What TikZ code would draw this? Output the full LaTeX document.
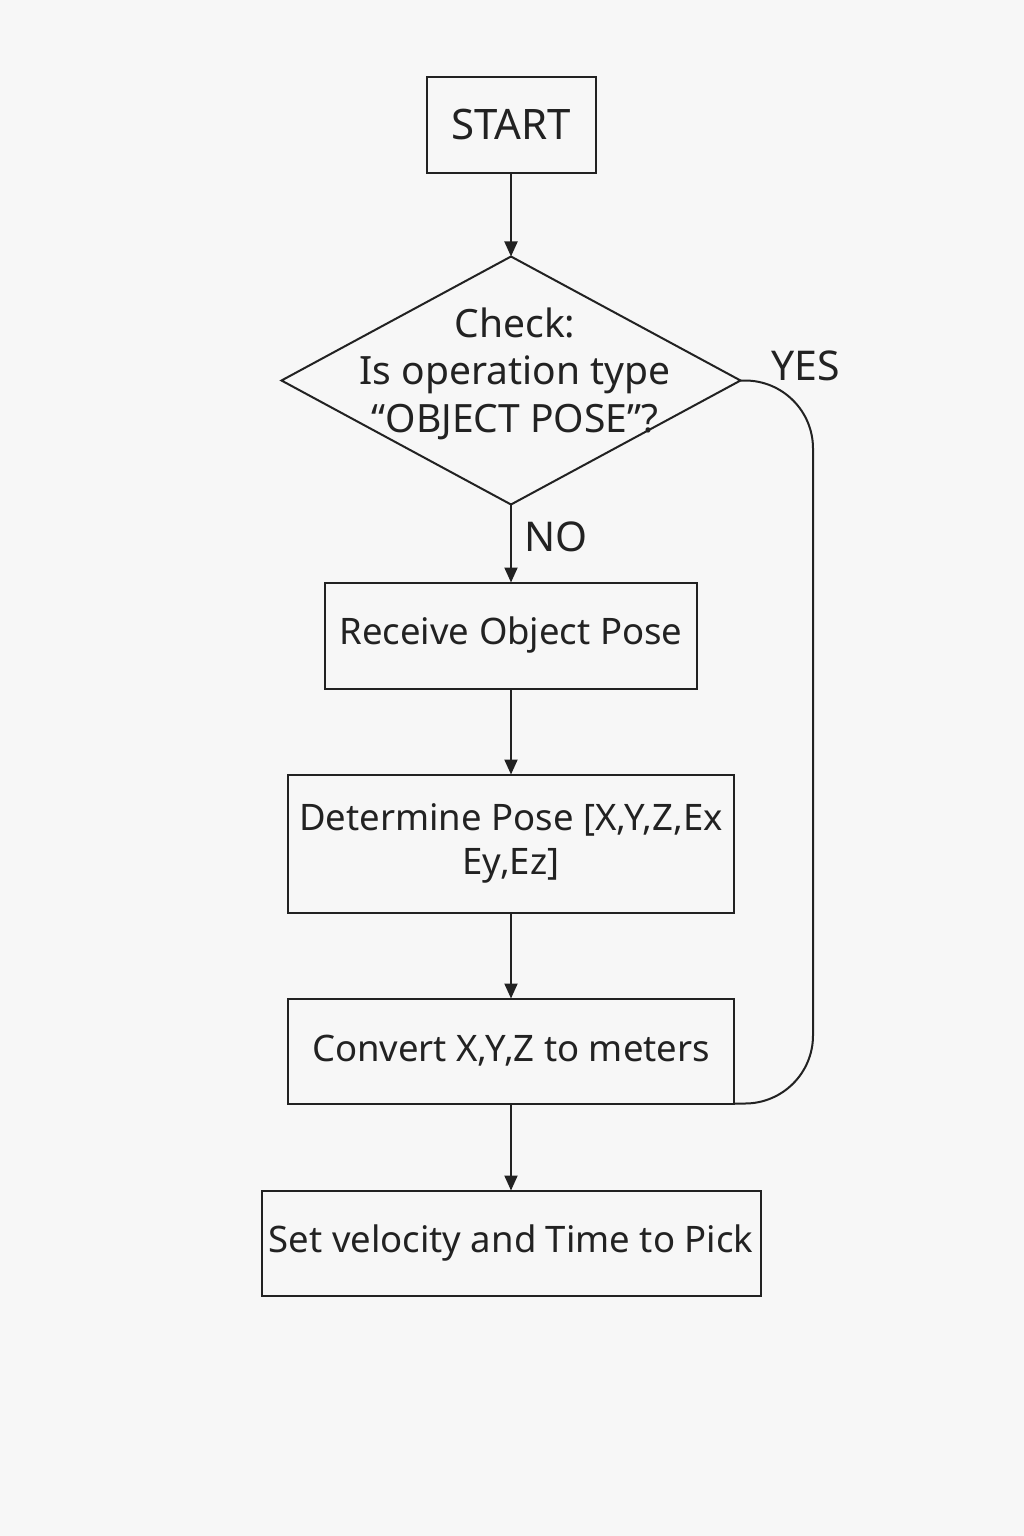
\documentclass[tikz,border=0pt]{standalone}
\usepackage{fontspec}
\setmainfont{Noto Sans}
\usetikzlibrary{arrows.meta,positioning,shapes.geometric}
\definecolor{inkgray}{HTML}{222222}
\definecolor{paper}{HTML}{F7F7F7}

\begin{document}
\begin{tikzpicture}[x=1pt, y=-1pt, ->, >={Triangle[length=15pt,width=13pt]},
    line width=2pt, draw=inkgray, node distance=84pt,
    every node/.style={text=inkgray, font=\fontsize{36.5}{44}\selectfont, outer sep=0pt},
    box/.style={draw, rectangle, inner sep=0pt, minimum height=105pt},
    decision/.style={draw, diamond, inner sep=0pt, minimum width=459pt, minimum height=248pt},
    branch/.style={font=\fontsize{41}{48}\selectfont}
    ]
\fill[-, paper] (0,0) rectangle (1024,1536);
\useasboundingbox (0,0) rectangle (1024,1536);
% flow
\node[box, minimum width=169pt, minimum height=95pt, font=\fontsize{42}{48}\selectfont] (start) at (511,125) {START};
\node[decision, below=of start] (check) {};
\node[align=center, font=\fontsize{39}{47.5}\selectfont] (checktext) at ([xshift=4pt, yshift=7pt]check.center) {Check:\\Is operation type\\“OBJECT POSE”?};
\node[box, below=78pt of check, minimum width=372pt, minimum height=106pt] (receive) {Receive Object Pose};
\node[box, below=86pt of receive, minimum width=446pt, minimum height=138pt, align=center] (determine) {Determine Pose [X,Y,Z,Ex\\Ey,Ez]};
\node[box, below=86pt of determine, minimum width=446pt, minimum height=105pt] (convert) {Convert X,Y,Z to meters};
\node[box, below=87pt of convert, minimum width=499pt, minimum height=105pt] (pick) {Set velocity and Time to Pick};
\path
(start)     edge                 (check)
(check)     edge node[branch, right, xshift=10pt, pos=0.42] {NO} (receive)
(receive)   edge                 (determine)
(determine) edge                 (convert)
(convert)   edge                 (pick)
;
% YES branch
\coordinate (rail) at (813,0);
\node[branch] (yes) at (806,366) {YES};
\draw[-, rounded corners=68pt] (check.east) -- (check.east -| rail) -- (convert.south east -| rail) -- (convert.south east);
\end{tikzpicture}
\end{document}
